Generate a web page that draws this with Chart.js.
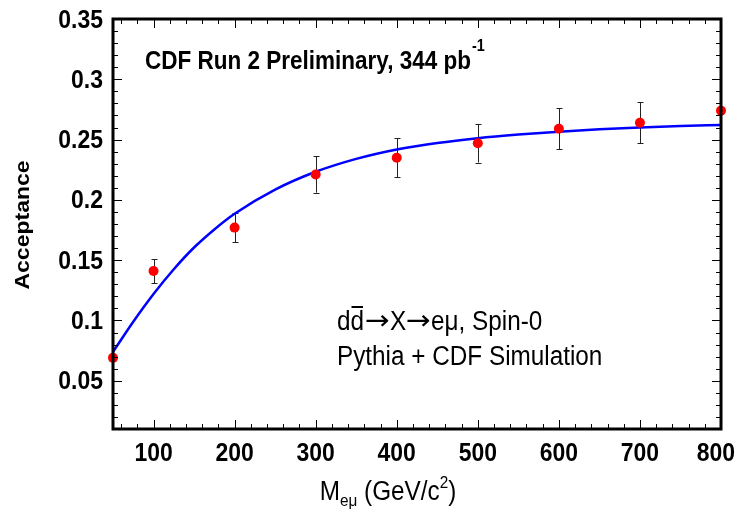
<!DOCTYPE html>
<html>
<head>
<meta charset="utf-8">
<script src="https://cdn.jsdelivr.net/npm/chart.js@4.4.1/dist/chart.umd.min.js"></script>
<style>
  html, body { margin: 0; padding: 0; background: #fff; }
  #wrap { width: 745px; height: 514px; position: relative; }
</style>
</head>
<body>
<div id="wrap"><canvas id="c" width="745" height="514"></canvas></div>
<script>
// ---- data ----
const massPoints = [50, 100, 200, 300, 400, 500, 600, 700, 800];
const acceptance = [0.069, 0.141, 0.177, 0.221, 0.235, 0.247, 0.259, 0.264, 0.274];
const accError   = [0, 0.010, 0.012, 0.015, 0.016, 0.016, 0.017, 0.017, 0];

const fitMass  = [50, 75, 100, 125, 150, 175, 200, 250, 300, 350, 400, 450, 500, 550, 600, 650, 700, 750, 800];
const fitValue = [0.074, 0.099, 0.122, 0.1425, 0.1605, 0.1755, 0.1885, 0.2085, 0.2233, 0.234, 0.2418, 0.2472, 0.2512, 0.2542, 0.2566, 0.2585, 0.26, 0.2612, 0.2622];

const xTickLabels = [100, 200, 300, 400, 500, 600, 700, 800];
const yTickLabels = [0.05, 0.1, 0.15, 0.2, 0.25, 0.3, 0.35];

const FONT = '"Liberation Sans", Arial, Helvetica, sans-serif';
const SX = 0.9; // horizontal condensing of the lettering

function txt(ctx, s, x, y, font, align, sx) {
  sx = sx || SX;
  ctx.font = font;
  const w = ctx.measureText(s).width * sx;
  let left = x;
  if (align === 'center') left = x - w / 2;
  else if (align === 'right') left = x - w;
  ctx.save();
  ctx.translate(left, y);
  ctx.scale(sx, 1);
  ctx.textAlign = 'left';
  ctx.fillText(s, 0, 0);
  ctx.restore();
  return w;
}
function width(ctx, s, font, sx) {
  ctx.font = font;
  return ctx.measureText(s).width * (sx || SX);
}

const errorBarPlugin = {
  id: 'errorBars',
  beforeDatasetsDraw(chart) {
    const { ctx, scales: { x, y } } = chart;
    ctx.save();
    ctx.strokeStyle = '#222';
    ctx.lineWidth = 1;
    massPoints.forEach((m, i) => {
      const e = accError[i];
      if (!e) return;
      const px = Math.round(x.getPixelForValue(m)) + 0.5;
      const y1 = y.getPixelForValue(acceptance[i] + e);
      const y2 = y.getPixelForValue(acceptance[i] - e);
      ctx.beginPath();
      ctx.moveTo(px, y1); ctx.lineTo(px, y2);
      ctx.moveTo(px - 3, Math.round(y1) + 0.5); ctx.lineTo(px + 3, Math.round(y1) + 0.5);
      ctx.moveTo(px - 3, Math.round(y2) + 0.5); ctx.lineTo(px + 3, Math.round(y2) + 0.5);
      ctx.stroke();
    });
    ctx.restore();
  }
};

const framePlugin = {
  id: 'frame',
  afterDraw(chart) {
    const { ctx, chartArea: a, scales: { x, y } } = chart;
    const W = chart.width;
    ctx.save();
    ctx.strokeStyle = '#000';
    ctx.lineWidth = 1;
    ctx.beginPath();
    for (let v = 60; v <= 800; v += 20) {
      const px = Math.round(x.getPixelForValue(v)) + 0.5;
      const len = (v % 100 === 0) ? 9 : 5;
      ctx.moveTo(px, a.bottom); ctx.lineTo(px, a.bottom - len);
      ctx.moveTo(px, a.top); ctx.lineTo(px, a.top + len);
    }
    for (let k = 2; k <= 35; k++) {
      const py = Math.round(y.getPixelForValue(k / 100)) + 0.5;
      const len = (k % 5 === 0) ? 9 : 5;
      ctx.moveTo(a.left, py); ctx.lineTo(a.left + len, py);
      ctx.moveTo(a.right, py); ctx.lineTo(a.right - len, py);
    }
    ctx.stroke();
    ctx.lineWidth = 3;
    ctx.strokeRect(a.left, a.top, a.right - a.left, a.bottom - a.top);

    ctx.fillStyle = '#000';
    ctx.textBaseline = 'alphabetic';

    // tick labels
    const tickFont = 'bold 25.5px ' + FONT;
    yTickLabels.forEach(v => {
      const py = y.getPixelForValue(v);
      txt(ctx, String(v), a.left - 10, py + 8.5, tickFont, 'right');
    });
    xTickLabels.forEach(v => {
      let px = x.getPixelForValue(v);
      const w = width(ctx, String(v), tickFont);
      px = Math.min(px, W - 10 - w / 2);
      txt(ctx, String(v), px, 461, tickFont, 'center');
    });

    // header
    const hf = 'bold 25px ' + FONT;
    const hx = a.left + 32, hy = 69;
    const hw = txt(ctx, 'CDF Run 2 Preliminary, 344 pb', hx, hy, hf, 'left');
    txt(ctx, '-1', hx + hw + 1, hy - 18, 'bold 16px ' + FONT, 'left');

    // process label
    const pf = '27px ' + FONT;
    const af = '27px "DejaVu Sans", sans-serif';
    let lx = 337; const ly = 330;
    const dW = width(ctx, 'd', pf);
    lx += txt(ctx, 'd', lx, ly, pf, 'left');
    txt(ctx, 'd', lx, ly, pf, 'left');
    ctx.lineWidth = 2;
    ctx.beginPath();
    ctx.moveTo(lx + 1, ly - 23); ctx.lineTo(lx + dW - 1, ly - 23);
    ctx.stroke();
    lx += dW + 1;
    lx += txt(ctx, '\u2192', lx, ly - 1, af, 'left', 1.1);
    lx += txt(ctx, 'X', lx, ly, pf, 'left');
    lx += txt(ctx, '\u2192', lx, ly - 1, af, 'left', 1.1);
    txt(ctx, 'e\u03bc, Spin-0', lx, ly, pf, 'left');
    txt(ctx, 'Pythia + CDF Simulation', 337, ly + 35, pf, 'left');

    // x axis title
    const mf = '27px ' + FONT, sf = '17px ' + FONT;
    const parts = [
      ['M', mf, 0], ['e\u03bc', sf, 6], [' (GeV/c', mf, 0], ['2', sf, -12], [')', mf, 0]
    ];
    const tw = parts.reduce((s, p) => s + width(ctx, p[0], p[1]), 0);
    let sx = 388 - tw / 2;
    const by = 500;
    parts.forEach(p => { sx += txt(ctx, p[0], sx, by + p[2], p[1], 'left'); });

    // y axis title
    ctx.save();
    ctx.translate(29, (a.top + a.bottom) / 2 + 1);
    ctx.rotate(-Math.PI / 2);
    ctx.scale(1, SX);
    ctx.textAlign = 'center';
    ctx.font = 'bold 23px ' + FONT;
    ctx.fillText('Acceptance', 0, 0);
    ctx.restore();
    ctx.restore();
  }
};

new Chart(document.getElementById('c'), {
  type: 'scatter',
  data: {
    datasets: [
      {
        type: 'line',
        label: 'fit',
        data: fitMass.map((m, i) => ({ x: m, y: fitValue[i] })),
        borderColor: '#0000ff',
        borderWidth: 2.5,
        pointRadius: 0,
        cubicInterpolationMode: 'monotone',
        fill: false,
        order: 2
      },
      {
        label: 'acceptance',
        data: massPoints.map((m, i) => ({ x: m, y: acceptance[i] })),
        backgroundColor: '#ff0000',
        borderColor: '#ff0000',
        pointRadius: 5,
        pointHoverRadius: 5,
        borderWidth: 0,
        clip: false,
        order: 1
      }
    ]
  },
  options: {
    responsive: false,
    animation: false,
    events: [],
    layout: { padding: { top: 19, right: 24, left: 0, bottom: 0 } },
    plugins: { legend: { display: false }, tooltip: { enabled: false } },
    scales: {
      x: {
        type: 'linear',
        min: 50, max: 800,
        grid: { display: false, drawTicks: false },
        border: { display: false },
        afterBuildTicks: (s) => { s.ticks = xTickLabels.map(v => ({ value: v })); },
        afterFit: (s) => { s.height = 85; },
        ticks: { display: false }
      },
      y: {
        min: 0.01, max: 0.35,
        grid: { display: false, drawTicks: false },
        border: { display: false },
        afterBuildTicks: (s) => { s.ticks = yTickLabels.map(v => ({ value: v })); },
        afterFit: (s) => { s.width = 113; },
        ticks: { display: false }
      }
    }
  },
  plugins: [errorBarPlugin, framePlugin]
});
</script>
</body>
</html>
